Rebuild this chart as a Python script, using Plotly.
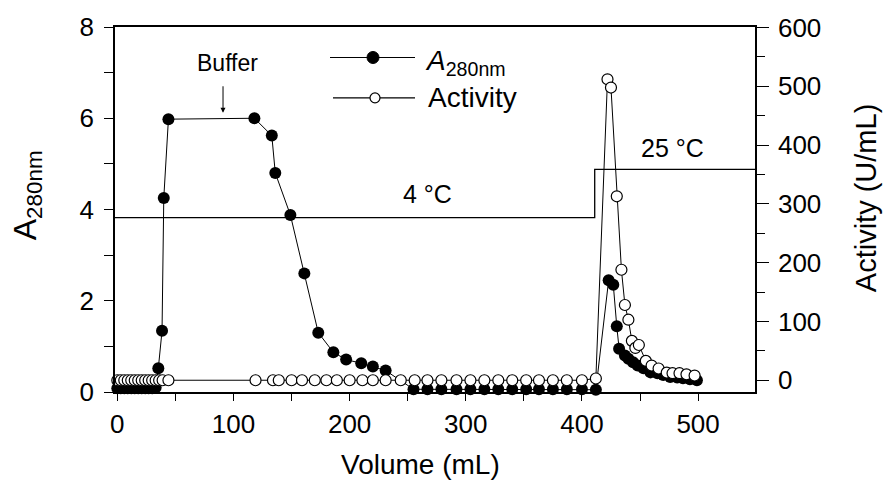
import plotly.graph_objects as go

# Elution profile: volume (mL), absorbance at 280 nm and enzyme activity (U/mL)
vol_a280 = [0, 3, 6, 9, 12, 15, 18, 21, 24, 27, 30, 33, 35.3, 38.5, 40, 44,
            118, 133, 136, 149, 161, 173, 186, 197, 210, 220, 231,
            255, 267, 279, 292, 304, 316, 328, 340, 352, 363, 375, 387, 400, 412,
            423, 427, 430, 432, 437, 440, 444, 448, 453, 459, 465, 470, 476, 482, 487, 493, 499]
a280 = [0.08, 0.08, 0.08, 0.08, 0.08, 0.08, 0.08, 0.08, 0.08, 0.08, 0.08, 0.1, 0.52, 1.34, 4.25, 5.98,
        6.0, 5.62, 4.8, 3.88, 2.6, 1.3, 0.87, 0.71, 0.63, 0.56, 0.47,
        0.06, 0.06, 0.06, 0.06, 0.06, 0.06, 0.06, 0.06, 0.06, 0.06, 0.06, 0.06, 0.06, 0.05,
        2.45, 2.35, 1.44, 0.95, 0.8, 0.73, 0.65, 0.58, 0.52, 0.43, 0.41, 0.37, 0.33, 0.32, 0.3, 0.28, 0.26]

vol_act = [0, 3, 6, 9, 12, 15, 18, 21, 24, 27, 30, 33, 36, 39, 44,
           119, 134, 139, 150, 159, 170, 180, 189, 200, 211, 220, 231, 244,
           256, 267, 279, 292, 304, 316, 328, 340, 352, 363, 375, 387, 400, 412,
           422, 425, 430, 434, 437, 440, 443, 446, 449, 455, 460, 466, 473, 478, 484, 490, 497]
activity = [0, 0, 0, 0, 0, 0, 0, 0, 0, 0, 0, 0, 0, 0, 0,
            0, 0, 0, 0, 0, 0, 0, 0, 0, 0, 0, 0, 0,
            0, 0, 0, 0, 0, 0, 0, 0, 0, 0, 0, 0, 0, 3,
            512, 498, 313, 188, 128, 103, 67, 55, 60, 33, 25, 20, 13, 12, 12, 10, 8]

# Column temperature program (drawn against the A280 scale)
temp_vol = [-2, 411, 411, 549]
temp_level = [3.82, 3.82, 4.88, 4.88]

FONT = "Liberation Sans, Arial, sans-serif"

fig = go.Figure()

fig.add_trace(go.Scatter(
    x=temp_vol, y=temp_level, mode="lines",
    line=dict(color="black", width=1.3),
    showlegend=False, hoverinfo="skip", cliponaxis=False))

fig.add_trace(go.Scatter(
    x=vol_a280, y=a280, mode="lines+markers", name="A280nm",
    line=dict(color="black", width=1),
    marker=dict(symbol="circle", size=12, color="black"),
    showlegend=False, cliponaxis=False))

fig.add_trace(go.Scatter(
    x=vol_act, y=activity, mode="lines+markers", name="Activity", yaxis="y2",
    line=dict(color="black", width=1),
    marker=dict(symbol="circle", size=11, color="white",
                line=dict(color="black", width=1.2)),
    showlegend=False, cliponaxis=False))

# Hand-drawn legend block
L, T, W, H = 115, 21, 640, 371


def px(x):
    return (x - L) / W


def py(y):
    return (T + H - y) / H


shapes = [
    dict(type="line", xref="paper", yref="paper", x0=px(330), x1=px(415),
         y0=py(52), y1=py(52), line=dict(color="black", width=1.2)),
    dict(type="circle", xref="paper", yref="paper", xsizemode="pixel", ysizemode="pixel",
         xanchor=px(373), yanchor=py(52), x0=-6, x1=6, y0=-6, y1=6,
         fillcolor="black", line=dict(color="black", width=1)),
    dict(type="line", xref="paper", yref="paper", x0=px(333), x1=px(415),
         y0=py(93), y1=py(93), line=dict(color="black", width=1.2)),
    dict(type="circle", xref="paper", yref="paper", xsizemode="pixel", ysizemode="pixel",
         xanchor=px(375), yanchor=py(93), x0=-5, x1=5, y0=-5, y1=5,
         fillcolor="white", line=dict(color="black", width=1.2)),
]


def label(text, x, y, size, **kw):
    d = dict(text=text, x=x, y=y, showarrow=False, xanchor="center", yanchor="middle",
             font=dict(size=size, family=FONT, color="black"))
    d.update(kw)
    return d


annotations = [
    label("<i>A</i><sub>280nm</sub>", px(423), py(57), 28, xref="paper", yref="paper", xanchor="left"),
    label("Activity", px(426), py(93), 28, xref="paper", yref="paper", xanchor="left"),
    # in-plot labels
    label("Buffer", 95, 7.22, 23, xref="x", yref="y"),
    dict(x=91, y=6.12, xref="x", yref="y", text="", showarrow=True, ax=0, ay=-28,
         arrowhead=2, arrowsize=1, arrowwidth=1, arrowcolor="black"),
    label("4 °C", 267, 4.33, 25, xref="x", yref="y"),
    label("25 °C", 478, 5.35, 25, xref="x", yref="y"),
    # axis titles
    label("A<sub>280nm</sub>", px(27), py(192), 32, xref="paper", yref="paper", textangle=-90),
    label("Activity (U/mL)", px(866), py(195), 29, xref="paper", yref="paper", textangle=-90),
    label("Volume (mL)", px(420), py(466), 28, xref="paper", yref="paper"),
]

tickfont = dict(size=26, family=FONT, color="black")

fig.update_layout(
    width=886, height=503,
    margin=dict(l=L, r=886 - L - W, t=T, b=503 - T - H),
    paper_bgcolor="white", plot_bgcolor="white",
    showlegend=False,
    shapes=shapes, annotations=annotations,
    xaxis=dict(range=[-2, 549], tickvals=[0, 100, 200, 300, 400, 500],
               ticks="outside", ticklen=7, tickwidth=1.3, tickcolor="black",
               minor=dict(tickvals=[50, 150, 250, 350, 450], ticks="outside", ticklen=7,
                          tickwidth=1.3, tickcolor="black"),
               showline=True, linecolor="black", linewidth=1.5, mirror=True,
               showgrid=False, zeroline=False, tickfont=tickfont, ticklabelstandoff=1),
    yaxis=dict(range=[0, 8], tickvals=[0, 2, 4, 6, 8],
               ticks="outside", ticklen=9, tickwidth=1.3, tickcolor="black",
               minor=dict(tickvals=[1, 3, 5, 7], ticks="outside", ticklen=9,
                          tickwidth=1.3, tickcolor="black"),
               showline=True, linecolor="black", linewidth=1.5,
               showgrid=False, zeroline=False, tickfont=tickfont, ticklabelstandoff=5),
    yaxis2=dict(range=[-20, 601], overlaying="y", side="right",
                tickvals=[0, 100, 200, 300, 400, 500, 600],
                ticks="outside", ticklen=12, tickwidth=1.3, tickcolor="black",
                minor=dict(tickvals=[50, 150, 250, 350, 450, 550], ticks="outside",
                           ticklen=8, tickwidth=1.3, tickcolor="black"),
                showline=True, linecolor="black", linewidth=1.5,
                showgrid=False, zeroline=False, tickfont=tickfont, ticklabelstandoff=4),
)

fig.write_html("out.html")
